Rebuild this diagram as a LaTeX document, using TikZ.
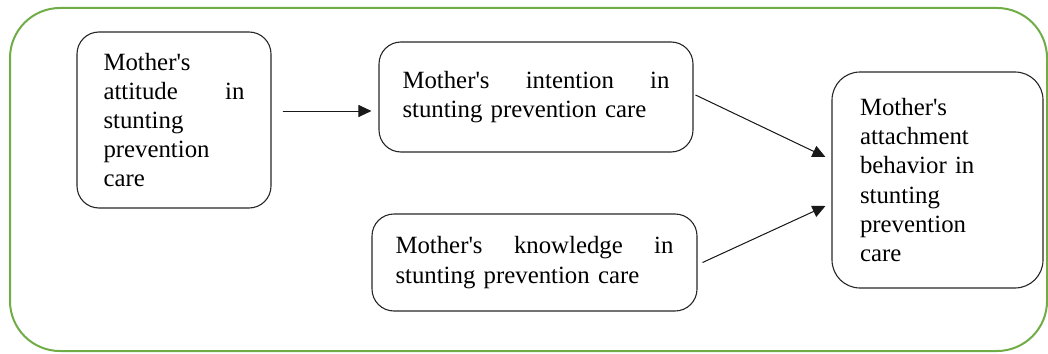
\documentclass[tikz,border=0pt]{standalone}
\usepackage{fontspec}
\setmainfont{Liberation Serif}[Ligatures=TeXOff]
\usetikzlibrary{arrows.meta,calc}
\definecolor{framegreen}{RGB}{112,173,71}
\begin{document}
\begin{tikzpicture}[x=1pt,y=-1pt,
  box/.style={draw=black!85, line width=1.1pt, rounded corners=22pt, inner sep=0pt,
    align=left, font=\fontsize{24.8}{29.2}\selectfont},
  arr/.style={-{Triangle[length=13pt,width=12pt]}, line width=1pt, draw=black!90, fill=black!90}]
\useasboundingbox (0,0) rectangle (1048,353);
\draw[draw=framegreen, line width=2pt, rounded corners=50pt] (10,8) rectangle (1047,351);
\node[box, minimum width=194pt, minimum height=176pt, text width=141pt] (att) at (174,120)
  {Mother's\\attitude\hfill in\\stunting\\prevention\\care};
\node[box, minimum width=314pt, minimum height=110pt, text width=267pt] (int) at (536,97)
  {Mother's\hfill intention\hfill in\\stunting prevention care\par\vspace{20pt}};
\node[box, minimum width=325pt, minimum height=97pt, text width=278pt] (kno) at (534.5,262.5)
  {Mother's\hfill knowledge\hfill in\\stunting prevention care};
\node[box, rounded corners=28pt, minimum width=211pt, minimum height=216pt, text width=155pt] (beh) at (937.5,180)
  {Mother's\\attachment\\behavior in\\stunting\\prevention\\care};
\draw[arr] ($(att.east)+(11,-9)$) -- ($(int.west)+(-7,14)$);
\draw[arr] ($(int.east)+(2,-2)$) -- ($(beh.west)+(-6,-23)$);
\draw[arr] ($(kno.east)+(5,0)$) -- ($(beh.west)+(-6,26)$);
\end{tikzpicture}
\end{document}
